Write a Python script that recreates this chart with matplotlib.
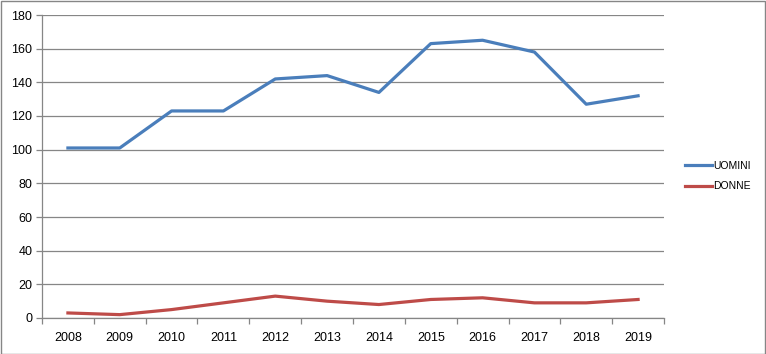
import matplotlib.pyplot as plt
from matplotlib.patches import Rectangle

years = ['2008', '2009', '2010', '2011', '2012', '2013',
         '2014', '2015', '2016', '2017', '2018', '2019']
uomini = [101, 101, 123, 123, 142, 144, 134, 163, 165, 158, 127, 132]
donne = [3, 2, 5, 9, 13, 10, 8, 11, 12, 9, 9, 11]

plt.rcParams['font.family'] = ['Liberation Sans', 'DejaVu Sans']

W, H = 766, 354
fig = plt.figure(figsize=(W / 100, H / 100), dpi=100)
ax = fig.add_axes([42 / W, 1 - 318 / H, (664 - 42) / W, (318 - 15) / H])

x = list(range(len(years)))
ax.plot(x, uomini, color='#4A7EBB', lw=2.3, label='UOMINI', solid_joinstyle='round')
ax.plot(x, donne, color='#BE4B48', lw=2.3, label='DONNE', solid_joinstyle='round')

ax.set_xlim(-0.5, len(years) - 0.5)
ax.set_ylim(0, 180)
ax.set_yticks(range(0, 181, 20))
ax.yaxis.grid(True, color='#868686', lw=0.9)
ax.set_axisbelow(True)

ax.set_xticks(x)
ax.set_xticklabels(years)
ax.set_xticks([i - 0.5 for i in range(len(years) + 1)], minor=True)
ax.tick_params(axis='x', which='major', length=0, pad=10, labelsize=9)
ax.tick_params(axis='x', which='minor', length=4, color='#868686', width=0.9)
ax.tick_params(axis='y', length=4, color='#868686', width=0.9, labelsize=9, pad=3)

for s in ['top', 'right']:
    ax.spines[s].set_visible(False)
for s in ['left', 'bottom']:
    ax.spines[s].set_color('#868686')
    ax.spines[s].set_linewidth(0.9)

ax.legend(loc='center left', bbox_to_anchor=(676 / W, 1 - 176 / H),
          bbox_transform=fig.transFigure, frameon=False, fontsize=7.5,
          handlelength=2.6, handletextpad=0.1, labelspacing=1.0)

fig.patches.append(Rectangle((0.5 / W, 0.5 / H), 1 - 1.5 / W, 1 - 1.5 / H,
                             transform=fig.transFigure, fill=False,
                             edgecolor='#868686', lw=1))

fig.savefig('out.png', dpi=100)
